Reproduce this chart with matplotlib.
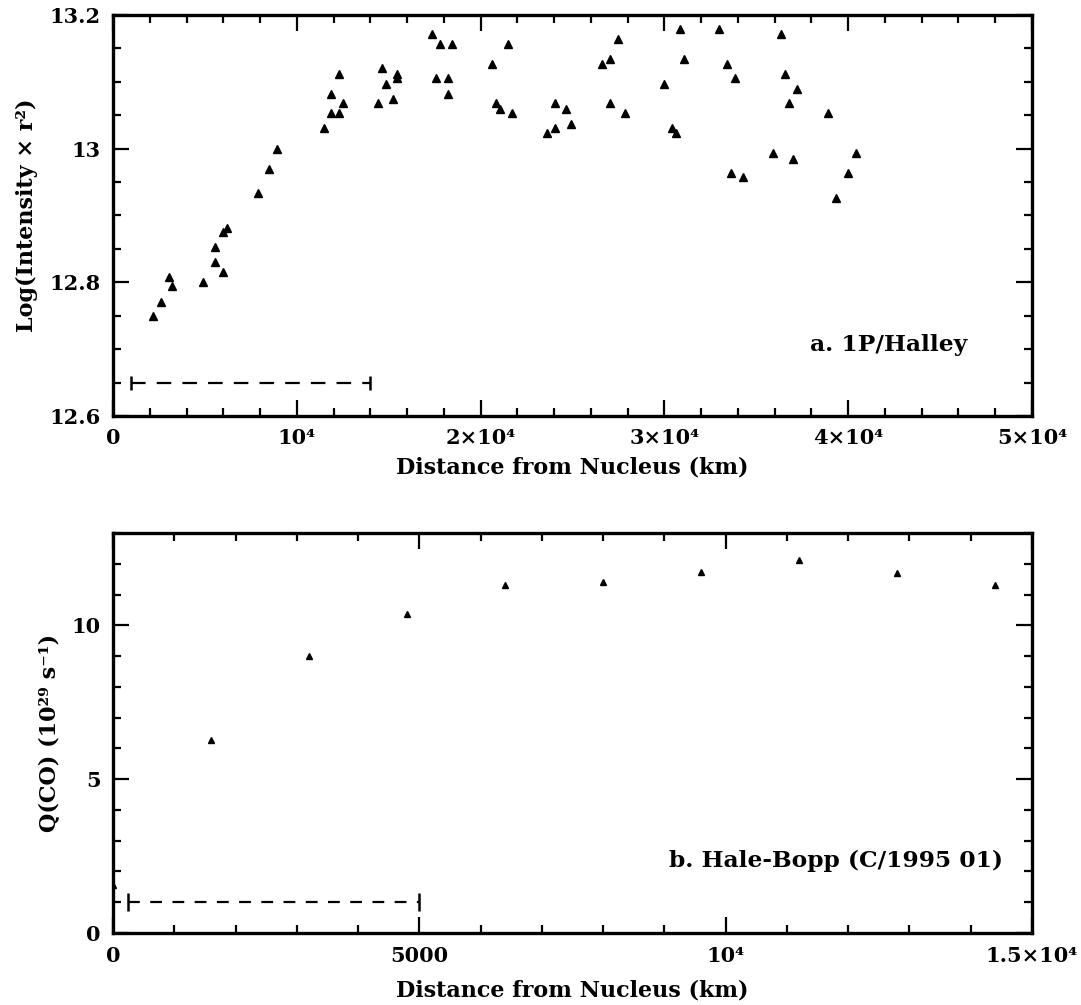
import matplotlib
matplotlib.use("Agg")
import matplotlib.pyplot as plt
from matplotlib.ticker import FixedLocator, MultipleLocator

plt.rcParams['font.family'] = ['DejaVu Serif']
plt.rcParams['font.weight'] = 'bold'
plt.rcParams['axes.labelweight'] = 'bold'
plt.rcParams['lines.scale_dashes'] = False

# Panel a: 1P/Halley, log(intensity * r^2) vs distance (km)
halley_dist = [
    2160, 2600, 3030, 3230, 4920, 5550, 5550, 5960, 5960, 6180,
    7870, 8500, 8940, 11460, 11870, 11870, 12290, 12290, 12520, 14410,
    14630, 14850, 15260, 15460, 15460, 17350, 17780, 18430, 17590, 18200,
    18200, 21490, 20620, 20840, 21050, 21690, 24050, 24670, 24910, 23620,
    24050, 27450, 26600, 27020, 27020, 27870, 30000, 30850, 31070, 30440,
    30650, 32980, 33400, 33840, 33640, 34250, 36360, 36580, 37220, 36780,
    38910, 35930, 36980, 40420, 39980, 39330,
]
halley_logi = [
    12.749, 12.771, 12.808, 12.794, 12.800, 12.853, 12.831, 12.816, 12.875, 12.881,
    12.934, 12.970, 13.000, 13.031, 13.082, 13.053, 13.053, 13.112, 13.068, 13.068,
    13.120, 13.097, 13.075, 13.112, 13.105, 13.171, 13.157, 13.157, 13.105, 13.105,
    13.082, 13.157, 13.127, 13.068, 13.060, 13.053, 13.068, 13.060, 13.037, 13.023,
    13.031, 13.164, 13.127, 13.134, 13.068, 13.053, 13.097, 13.179, 13.134, 13.031,
    13.023, 13.179, 13.127, 13.105, 12.964, 12.957, 13.171, 13.112, 13.090, 13.068,
    13.053, 12.994, 12.985, 12.994, 12.964, 12.926,
]
halley_range = [1000, 14000]
halley_range_level = 12.65

# Panel b: Hale-Bopp, Q(CO) in 1e29 s^-1 vs distance (km)
hb_dist = [0, 1600, 3200, 4800, 6400, 8000, 9600, 11200, 12800, 14400]
hb_qco = [1.55, 6.28, 8.99, 10.37, 11.31, 11.40, 11.72, 12.12, 11.70, 11.32]
hb_range = [250, 5000]
hb_range_level = 1.0

top_xticks = [0, 10000, 20000, 30000, 40000, 50000]
top_xticklabels = ['0', '10⁴', '2×10⁴', '3×10⁴', '4×10⁴', '5×10⁴']
top_yticks = [12.6, 12.8, 13.0, 13.2]
top_yticklabels = ['12.6', '12.8', '13', '13.2']
bot_xticks = [0, 5000, 10000, 15000]
bot_xticklabels = ['0', '5000', '10⁴', '1.5×10⁴']
bot_yticks = [0, 5, 10]
bot_yticklabels = ['0', '5', '10']

W, H = 1081, 1005
fig = plt.figure(figsize=(W / 100, H / 100), dpi=100)
ax1 = fig.add_axes([113 / W, 1 - 416 / H, 919 / W, 401 / H])
ax2 = fig.add_axes([113 / W, 1 - 933 / H, 919 / W, 400 / H])

TICK_FS = 15
LABEL_FS = 16
NOTE_FS = 16.8


def style_axes(ax, minor_x, minor_y):
    for sp in ax.spines.values():
        sp.set_linewidth(2.4)
    ax.xaxis.set_minor_locator(MultipleLocator(minor_x))
    ax.yaxis.set_minor_locator(MultipleLocator(minor_y))
    ax.tick_params(which='both', direction='in', top=True, right=True,
                   labelsize=TICK_FS, width=1.6)
    ax.tick_params(which='major', length=11.5, pad=9)
    ax.tick_params(which='minor', length=5.8)


def range_bar(ax, xr, level, cap, on, off):
    ax.plot(xr, [level, level], color='k', lw=1.6, dashes=(on, off))
    ax.plot(xr, [level, level], color='k', ls='none', marker='|',
            ms=cap, mew=1.8)


# top panel
ax1.plot(halley_dist, halley_logi, ls='none', marker='^', ms=5.2,
         color='k', mec='k')
range_bar(ax1, halley_range, halley_range_level, 10, 10.5, 8.0)
ax1.set_xlim(0, 50000)
ax1.set_ylim(12.6, 13.2)
ax1.xaxis.set_major_locator(FixedLocator(top_xticks))
ax1.set_xticklabels(top_xticklabels)
ax1.yaxis.set_major_locator(FixedLocator(top_yticks))
ax1.set_yticklabels(top_yticklabels)
style_axes(ax1, 2000, 0.05)
ax1.set_xlabel('Distance from Nucleus (km)', fontsize=LABEL_FS)
ax1.xaxis.set_label_coords(0.5, -0.102)
ax1.set_ylabel('Log(Intensity × r²)', fontsize=LABEL_FS)
ax1.yaxis.set_label_coords(-0.082, 0.5)
ax1.text(0.930, 0.162, 'a. 1P/Halley', transform=ax1.transAxes,
         ha='right', va='baseline', fontsize=NOTE_FS)

# bottom panel
ax2.plot(hb_dist, hb_qco, ls='none', marker='^', ms=4.0,
         color='k', mec='k')
range_bar(ax2, hb_range, hb_range_level, 13, 8.5, 7.5)
ax2.set_xlim(0, 15000)
ax2.set_ylim(0, 13)
ax2.xaxis.set_major_locator(FixedLocator(bot_xticks))
ax2.set_xticklabels(bot_xticklabels)
ax2.yaxis.set_major_locator(FixedLocator(bot_yticks))
ax2.set_yticklabels(bot_yticklabels)
style_axes(ax2, 1000, 1)
ax2.set_xlabel('Distance from Nucleus (km)', fontsize=LABEL_FS)
ax2.xaxis.set_label_coords(0.5, -0.115)
ax2.set_ylabel('Q(CO) (10²⁹ s⁻¹)', fontsize=LABEL_FS)
ax2.yaxis.set_label_coords(-0.058, 0.5)
ax2.text(0.968, 0.165, 'b. Hale-Bopp (C/1995 01)', transform=ax2.transAxes,
         ha='right', va='baseline', fontsize=NOTE_FS)

fig.savefig('out.png', dpi=100)
